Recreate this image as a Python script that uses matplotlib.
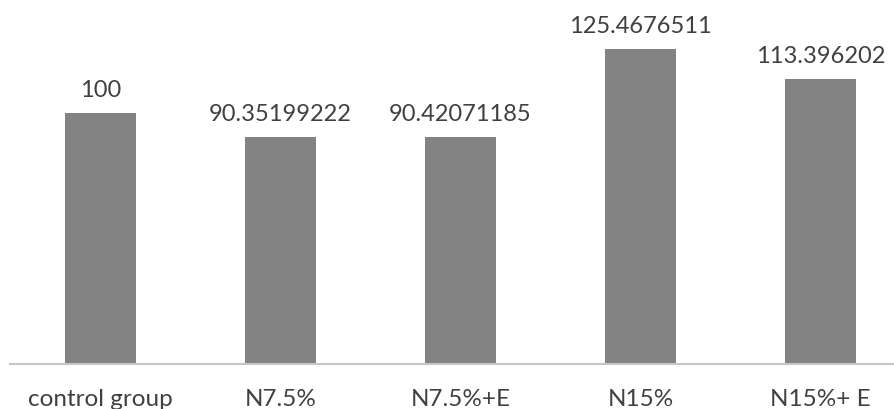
import matplotlib.pyplot as plt

# ── Data ──────────────────────────────────────────────────────────────────────
categories = ['control group', 'N7.5%', 'N7.5%+E', 'N15%', 'N15%+ E']
values = [100, 90.35199222, 90.42071185, 125.4676511, 113.396202]
value_labels = ['100', '90.35199222', '90.42071185', '125.4676511', '113.396202']

BAR_COLOR = '#838383'
TEXT_COLOR = '#404040'
AXIS_COLOR = '#c6c6c6'

plt.rcParams['font.family'] = ['Lato', 'DejaVu Sans']

fig = plt.figure(figsize=(8.95, 4.10), dpi=100)
ax = fig.add_axes([10 / 895, 45 / 410, 885 / 895, 365 / 410])

x = list(range(len(categories)))
bars = ax.bar(x, values, width=0.394, color=BAR_COLOR, zorder=2)

# value labels above each bar
for xi, v, lab in zip(x, values, value_labels):
    ax.annotate(lab, xy=(xi, v), xytext=(0, 12.5), textcoords='offset points',
                ha='center', va='baseline', fontsize=17, color=TEXT_COLOR)

ax.set_xlim(-0.503, 4.414)
ax.set_ylim(0, 145.4)

ax.set_xticks(x)
ax.set_xticklabels(categories, fontsize=17.5, color=TEXT_COLOR)
ax.tick_params(axis='x', length=0, pad=17.5)
ax.set_yticks([])

for side in ['top', 'right', 'left']:
    ax.spines[side].set_visible(False)
ax.spines['bottom'].set_color(AXIS_COLOR)
ax.spines['bottom'].set_linewidth(1.5)

fig.savefig('out.png', dpi=100, facecolor='white')
